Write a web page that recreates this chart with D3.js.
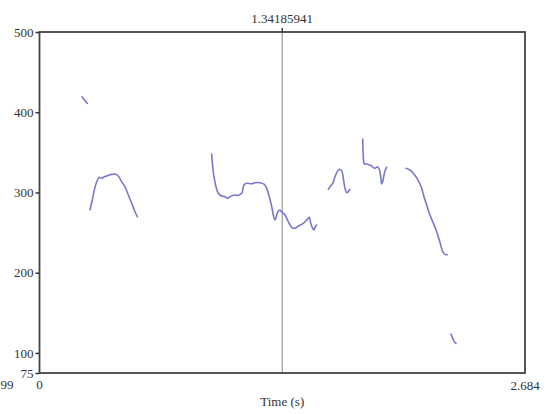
<!DOCTYPE html>
<html>
<head>
<meta charset="utf-8">
<script src="https://cdn.jsdelivr.net/npm/d3@7"></script>
<style>
  html, body { margin: 0; padding: 0; background: #fff; }
  svg { display: block; }
  text { font-family: "Liberation Serif", "DejaVu Serif", serif; fill: #333; }
</style>
</head>
<body>
<svg id="chart" width="546" height="414"></svg>
<script>
// Pitch contour (Hz) over time (s), one array per voiced stretch: [time, pitch]
const contour1 = [[0.2350, 419.3], [0.2488, 415.2], [0.2643, 411.1]];
const contour2 = [
  [0.2792, 278.5], [0.2919, 290.6], [0.3030, 303.1], [0.3162, 313.4], [0.3306, 318.9],
  [0.3439, 317.6], [0.3582, 319.6], [0.3715, 320.5], [0.3897, 322.1], [0.4174, 323.0],
  [0.4356, 320.5], [0.4544, 313.4], [0.4727, 307.2], [0.4909, 296.8], [0.5097, 286.5],
  [0.5280, 276.0], [0.5407, 269.8]
];
const contour3 = [
  [0.9520, 347.9], [0.9575, 332.1], [0.9647, 319.6], [0.9757, 307.2], [0.9885, 299.0],
  [1.0073, 295.6], [1.0255, 294.7], [1.0382, 292.7], [1.0531, 294.7], [1.0714, 296.5],
  [1.0990, 296.5], [1.1178, 299.0], [1.1305, 309.3], [1.1455, 311.4], [1.1731, 310.9],
  [1.1913, 312.2], [1.2190, 312.2], [1.2411, 310.5], [1.2560, 305.2], [1.2704, 294.7],
  [1.2837, 282.3], [1.2925, 271.9], [1.3019, 265.7], [1.3146, 274.0], [1.3257, 278.1],
  [1.3390, 276.0], [1.3572, 271.9], [1.3754, 263.6], [1.3942, 256.6], [1.4125, 255.3],
  [1.4307, 258.2], [1.4584, 261.6], [1.4805, 266.5], [1.4915, 269.0], [1.4993, 261.6],
  [1.5103, 255.3], [1.5175, 253.2], [1.5230, 256.6], [1.5325, 259.4]
];
const contour4 = [
  [1.5966, 303.9], [1.6060, 307.2], [1.6209, 311.4], [1.6336, 319.6], [1.6463, 325.9],
  [1.6574, 328.9], [1.6707, 327.1], [1.6795, 317.6], [1.6889, 305.2], [1.6983, 299.7],
  [1.7071, 301.0], [1.7165, 303.9]
];
const contour5 = [
  [1.7868, 366.3], [1.7884, 352.9], [1.7923, 338.3], [1.7956, 335.5], [1.8089, 335.5],
  [1.8232, 334.2], [1.8365, 333.0], [1.8453, 330.9], [1.8547, 330.1], [1.8674, 332.1],
  [1.8785, 328.9], [1.8863, 319.6], [1.8918, 310.5], [1.8973, 313.4], [1.9045, 321.8],
  [1.9117, 328.0], [1.9194, 331.4]
];
const contour6 = [
  [2.0261, 330.1], [2.0482, 328.0], [2.0703, 323.0], [2.0941, 314.7], [2.1129, 305.2],
  [2.1256, 294.7], [2.1406, 284.4], [2.1549, 274.0], [2.1737, 263.6], [2.1920, 253.2],
  [2.2047, 244.9], [2.2180, 234.5], [2.2290, 226.2], [2.2417, 222.9], [2.2544, 222.4]
];
const contour7 = [[2.2749, 123.6], [2.2843, 118.2], [2.2931, 114.0], [2.3025, 112.0]];
const contours = [contour1, contour2, contour3, contour4, contour5, contour6, contour7];

// Axis settings
const timeRange = [0, 2.684];
const pitchRange = [75, 500];
const pitchTicks = [75, 100, 200, 300, 400, 500];
const cursorTime = 1.34185941;
const cursorLabel = "1.34185941";
const startLabel = "0";
const endLabel = "2.684";
const leftCutLabel = "99";
const xTitle = "Time (s)";

const svg = d3.select("#chart");
const plotLeft = 39.5, plotRight = 525, plotTop = 32, plotBottom = 373;

const x = d3.scaleLinear().domain(timeRange).range([plotLeft, plotRight]);
const y = d3.scaleLinear().domain(pitchRange).range([plotBottom, plotTop]);

// Cursor line
svg.append("line")
  .attr("x1", x(cursorTime)).attr("x2", x(cursorTime))
  .attr("y1", plotTop).attr("y2", plotBottom)
  .attr("stroke", "#a8a8a8").attr("stroke-width", 1.4);

// Pitch contours
const pitchLine = d3.line()
  .x(p => x(p[0])).y(p => y(p[1]))
  .curve(d3.curveCatmullRom.alpha(0.5));
svg.append("g").selectAll("path")
  .data(contours)
  .join("path")
  .attr("d", pitchLine)
  .attr("fill", "none")
  .attr("stroke", "#7878cc")
  .attr("stroke-width", 1.6)
  .attr("stroke-linejoin", "round")
  .attr("stroke-linecap", "round");

// Frame
svg.append("rect")
  .attr("x", plotLeft).attr("y", plotTop)
  .attr("width", plotRight - plotLeft).attr("height", plotBottom - plotTop)
  .attr("fill", "none").attr("stroke", "#444").attr("stroke-width", 1.8);

// Left axis
const yAxis = d3.axisLeft(y).tickValues(pitchTicks).tickSize(4).tickPadding(2).tickFormat(d3.format("d"));
const gy = svg.append("g").attr("transform", `translate(${plotLeft},0)`).call(yAxis);
gy.select(".domain").remove();
gy.selectAll(".tick line").attr("stroke", "#333").attr("stroke-width", 1.5);
gy.selectAll(".tick text")
  .style("font-family", '"Liberation Serif", serif')
  .style("font-size", "13px").attr("fill", "#333");

// Cursor tick and label on top
svg.append("line")
  .attr("x1", x(cursorTime)).attr("x2", x(cursorTime))
  .attr("y1", plotTop - 4).attr("y2", plotTop)
  .attr("stroke", "#333").attr("stroke-width", 1.4);
svg.append("text")
  .attr("x", x(cursorTime)).attr("y", 23)
  .attr("text-anchor", "middle").style("font-size", "13px")
  .text(cursorLabel);

// Time labels along the bottom
svg.append("text")
  .attr("x", x(timeRange[0])).attr("y", 389)
  .attr("text-anchor", "middle").style("font-size", "13px")
  .text(startLabel);
svg.append("text")
  .attr("x", x(timeRange[1])).attr("y", 390)
  .attr("text-anchor", "middle").style("font-size", "13px")
  .text(endLabel);
svg.append("text")
  .attr("x", 0.5).attr("y", 389)
  .attr("text-anchor", "start").style("font-size", "13px")
  .text(leftCutLabel);
svg.append("text")
  .attr("x", (plotLeft + plotRight) / 2).attr("y", 406)
  .attr("text-anchor", "middle").style("font-size", "13px")
  .text(xTitle);
</script>
</body>
</html>
